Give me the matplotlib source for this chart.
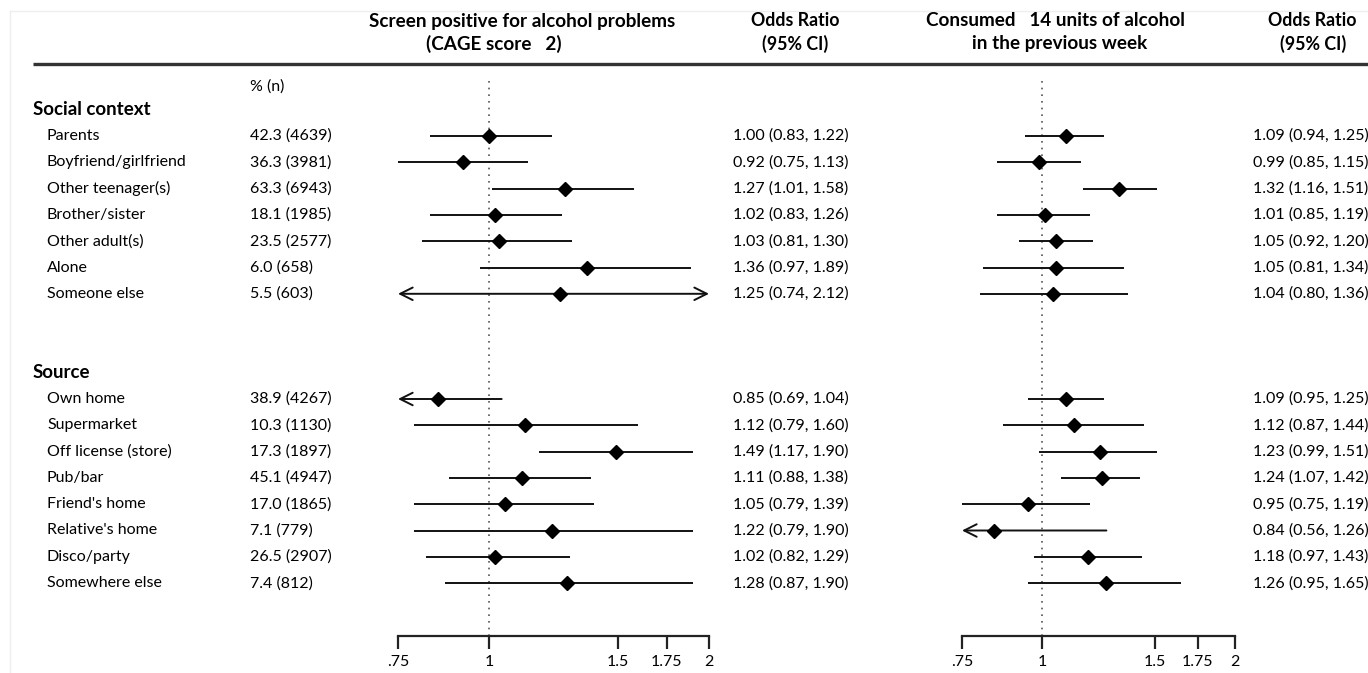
import matplotlib
matplotlib.use("Agg")
import matplotlib.pyplot as plt
from matplotlib.ticker import FixedLocator, NullLocator, FixedFormatter

plt.rcParams['font.family'] = ['Lato', 'DejaVu Sans']

# ---------------- data ----------------
groups = ["Social context", "Source"]
social_labels = ["Parents", "Boyfriend/girlfriend", "Other teenager(s)", "Brother/sister",
                 "Other adult(s)", "Alone", "Someone else"]
source_labels = ["Own home", "Supermarket", "Off license (store)", "Pub/bar", "Friend's home",
                 "Relative's home", "Disco/party", "Somewhere else"]
social_pct = ["42.3 (4639)", "36.3 (3981)", "63.3 (6943)", "18.1 (1985)", "23.5 (2577)",
              "6.0 (658)", "5.5 (603)"]
source_pct = ["38.9 (4267)", "10.3 (1130)", "17.3 (1897)", "45.1 (4947)", "17.0 (1865)",
              "7.1 (779)", "26.5 (2907)", "7.4 (812)"]

cage_or = [1.00, 0.92, 1.27, 1.02, 1.03, 1.36, 1.25, 0.85, 1.12, 1.49, 1.11, 1.05, 1.22, 1.02, 1.28]
cage_lo = [0.83, 0.75, 1.01, 0.83, 0.81, 0.97, 0.74, 0.69, 0.79, 1.17, 0.88, 0.79, 0.79, 0.82, 0.87]
cage_hi = [1.22, 1.13, 1.58, 1.26, 1.30, 1.89, 2.12, 1.04, 1.60, 1.90, 1.38, 1.39, 1.90, 1.29, 1.90]

units_or = [1.09, 0.99, 1.32, 1.01, 1.05, 1.05, 1.04, 1.09, 1.12, 1.23, 1.24, 0.95, 0.84, 1.18, 1.26]
units_lo = [0.94, 0.85, 1.16, 0.85, 0.92, 0.81, 0.80, 0.95, 0.87, 0.99, 1.07, 0.75, 0.56, 0.97, 0.95]
units_hi = [1.25, 1.15, 1.51, 1.19, 1.20, 1.34, 1.36, 1.25, 1.44, 1.51, 1.42, 1.19, 1.26, 1.43, 1.65]

xticks = [0.75, 1, 1.5, 1.75, 2]
xticklabels = [".75", "1", "1.5", "1.75", "2"]

# ---------------- layout ----------------
W, H = 1368, 673
ROW0, DY = 136, 26.3
AX_TOP, AX_BOT = 78, 636
FS = 11.5

fig = plt.figure(figsize=(W / 100, H / 100), dpi=100)
bg = fig.add_axes([0, 0, 1, 1])
bg.set_xlim(0, W)
bg.set_ylim(H, 0)
bg.axis("off")

def ypix(r):
    return ROW0 + DY * r

def ypix_inv(p):
    return (p - ROW0) / DY

# row indices
social_rows = list(range(0, 7))
source_rows = list(range(10, 18))
rows = social_rows + source_rows

# frame lines
bg.plot([10, W], [11, 11], color="#eeeeee", lw=1)
bg.plot([10, 10], [11, H], color="#eeeeee", lw=1)
bg.plot([33, W], [64, 64], color="#333333", lw=2.4, solid_capstyle="butt")

# headers
tkw = dict(fontsize=13.6, fontweight="bold", ha="center", va="center")
okw = dict(fontsize=12.8, fontweight="bold", ha="center", va="center")
bg.text(522, 21, "Screen positive for alcohol problems", **tkw)
bg.text(494, 44, "(CAGE score   2)", **tkw)
bg.text(795, 21, "Odds Ratio", **okw)
bg.text(795, 44, "(95% CI)", **okw)
bg.text(1055, 21, "Consumed   14 units of alcohol", **tkw)
bg.text(1060, 44, "in the previous week", **tkw)
bg.text(1312, 21, "Odds Ratio", **okw)
bg.text(1313, 44, "(95% CI)", **okw)

bg.text(250, 87, "% (n)", fontsize=FS, ha="left", va="center")
bg.text(33, ypix(-1), groups[0], fontsize=13.5, fontweight="bold", ha="left", va="center")
bg.text(33, ypix(9), groups[1], fontsize=13.5, fontweight="bold", ha="left", va="center")

labels = social_labels + source_labels
pcts = social_pct + source_pct
for r, lab, p, o1, l1, h1, o2, l2, h2 in zip(rows, labels, pcts, cage_or, cage_lo, cage_hi,
                                             units_or, units_lo, units_hi):
    y = ypix(r)
    bg.text(47, y, lab, fontsize=FS, ha="left", va="center")
    bg.text(250, y, p, fontsize=FS, ha="left", va="center")
    bg.text(733, y, f"{o1:.2f} ({l1:.2f}, {h1:.2f})", fontsize=FS, ha="left", va="center")
    bg.text(1253, y, f"{o2:.2f} ({l2:.2f}, {h2:.2f})", fontsize=FS, ha="left", va="center")

def forest(x0px, x1px, ors, los, his):
    ax = fig.add_axes([x0px / W, (H - AX_BOT) / H, (x1px - x0px) / W, (AX_BOT - AX_TOP) / H])
    ax.set_xscale("log")
    lo_lim, hi_lim = xticks[0], xticks[-1]
    ax.set_xlim(lo_lim, hi_lim)
    ax.set_ylim(ypix_inv(AX_BOT), ypix_inv(AX_TOP))
    ax.patch.set_alpha(0)
    for s in ["top", "left", "right"]:
        ax.spines[s].set_visible(False)
    ax.spines["bottom"].set_linewidth(1.6)
    ax.spines["bottom"].set_color("#222222")
    ax.yaxis.set_visible(False)
    ax.xaxis.set_major_locator(FixedLocator(xticks))
    ax.xaxis.set_major_formatter(FixedFormatter(xticklabels))
    ax.xaxis.set_minor_locator(NullLocator())
    ax.tick_params(axis="x", direction="out", length=9, width=1.6, color="#222222",
                   labelsize=FS, pad=5)
    ax.axvline(1, color="#555555", ls=(0, (1, 3)), lw=1.2, zorder=1)
    for r, o, l, h in zip(rows, ors, los, his):
        a = max(l, lo_lim)
        b = min(h, hi_lim)
        left_arrow = l < lo_lim
        right_arrow = h > hi_lim
        style = {(False, False): "-", (True, False): "<-", (False, True): "->",
                 (True, True): "<->"}[(left_arrow, right_arrow)]
        if style == "-":
            ax.plot([a, b], [r, r], color="#111111", lw=1.4, solid_capstyle="butt", zorder=2)
        else:
            ax.annotate("", xy=(b, r), xytext=(a, r),
                        arrowprops=dict(arrowstyle=style + ",head_length=0.9,head_width=0.45",
                                        color="#111111", lw=1.4, shrinkA=0, shrinkB=0),
                        zorder=2)
        ax.plot([o], [r], marker="D", ms=7, color="black", zorder=3)
    return ax

forest(398, 709, cage_or, cage_lo, cage_hi)
forest(962, 1235, units_or, units_lo, units_hi)

fig.savefig("out.png", dpi=100)
